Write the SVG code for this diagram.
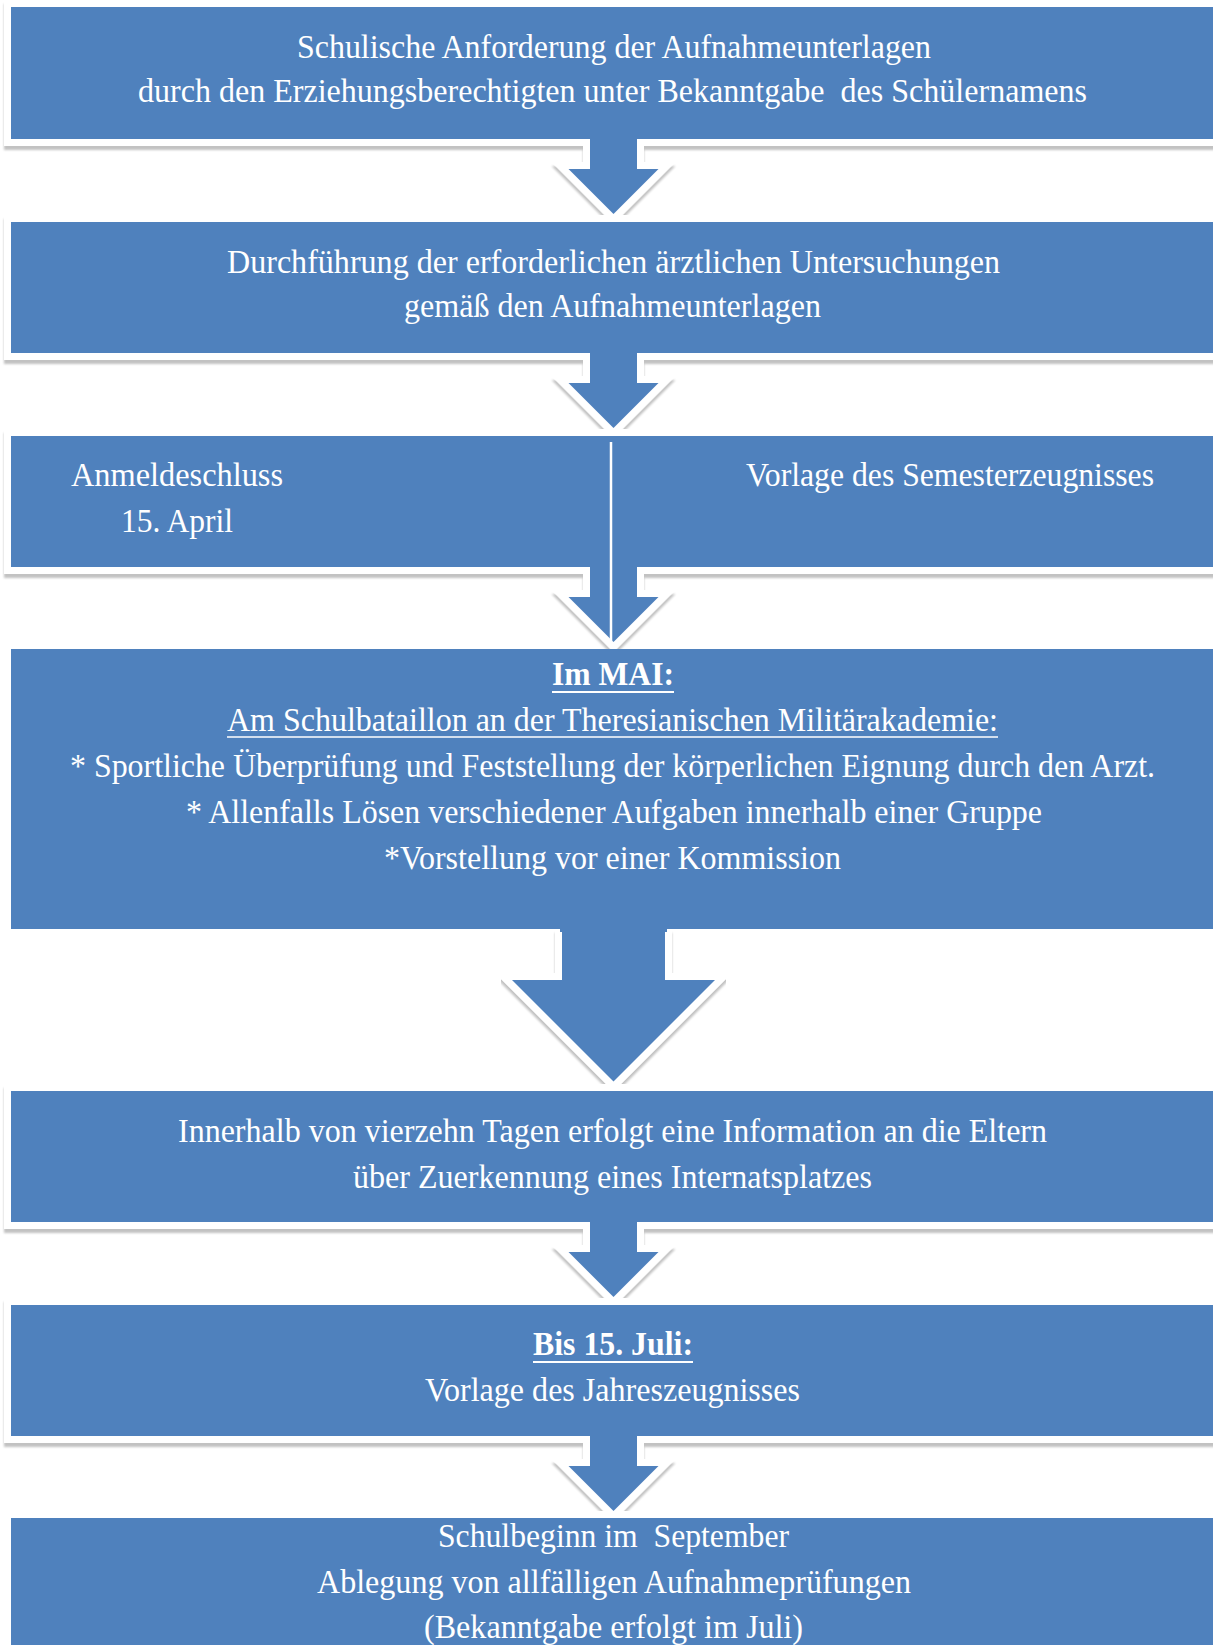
<svg xmlns="http://www.w3.org/2000/svg" width="1213" height="1645" viewBox="0 0 1213 1645">
<defs>
<style>
.box{fill:#4F81BD;stroke:#fff;stroke-width:14;stroke-linejoin:miter;stroke-miterlimit:10;paint-order:stroke}
.sh{filter:url(#ds)}
.t{font-family:"Liberation Serif","Times New Roman",serif;font-size:33px;fill:#fff}
.b{font-weight:bold}
.ul{stroke:#fff;stroke-width:2}
.div{stroke:#fff;stroke-width:2.5}
</style>
<filter id="ds" x="-5%" y="-10%" width="110%" height="130%">
<feDropShadow dx="0" dy="4" stdDeviation="1" flood-color="#000" flood-opacity="0.24"/>
</filter>
</defs>
<rect width="1213" height="1645" fill="#fff"/>

<g id="node1">
<path class="box sh" d="M11,7 H1230 V139 H637 V169 H658.5 L613.5,214 L568.5,169 H590 V139 H11 Z"/>
<text class="t" x="297" y="58" textLength="634" lengthAdjust="spacingAndGlyphs">Schulische Anforderung der Aufnahmeunterlagen</text>
<text class="t" x="138" y="102" textLength="949" lengthAdjust="spacingAndGlyphs" xml:space="preserve">durch den Erziehungsberechtigten unter Bekanntgabe  des Schülernamens</text>
</g>

<g id="node2">
<path class="box sh" d="M11,222 H1230 V353 H637 V383 H658.5 L613.5,428 L568.5,383 H590 V353 H11 Z"/>
<text class="t" x="227" y="273" textLength="773" lengthAdjust="spacingAndGlyphs">Durchführung der erforderlichen ärztlichen Untersuchungen</text>
<text class="t" x="404" y="317" textLength="417" lengthAdjust="spacingAndGlyphs">gemäß den Aufnahmeunterlagen</text>
</g>

<g id="node3">
<path class="box sh" d="M11,436 H1230 V567 H637 V597 H658.5 L613.5,642 L568.5,597 H590 V567 H11 Z"/>
<line class="div" x1="611" y1="442" x2="611" y2="641"/>
<text class="t" x="71" y="486" textLength="212" lengthAdjust="spacingAndGlyphs">Anmeldeschluss</text>
<text class="t" x="121" y="532" textLength="112" lengthAdjust="spacingAndGlyphs">15. April</text>
<text class="t" x="746" y="486" textLength="408" lengthAdjust="spacingAndGlyphs">Vorlage des Semesterzeugnisses</text>
</g>

<g id="node4">
<rect x="11" y="649" width="1220" height="280" fill="#4F81BD"/>
<path class="box sh" d="M562,929 V980 H512 L613.5,1081.5 L715,980 H665 V929"/>
<rect x="560" y="926" width="107" height="6" fill="#4F81BD"/>
<text class="t b" x="552" y="685" textLength="122" lengthAdjust="spacingAndGlyphs">Im MAI:</text>
<line class="ul" x1="552" y1="692" x2="674" y2="692"/>
<text class="t" x="227" y="731" textLength="771" lengthAdjust="spacingAndGlyphs">Am Schulbataillon an der Theresianischen Militärakademie:</text>
<line class="ul" x1="227" y1="737" x2="998" y2="737" style="stroke-width:1.5"/>
<text class="t" x="70" y="777" textLength="1085" lengthAdjust="spacingAndGlyphs">* Sportliche Überprüfung und Feststellung der körperlichen Eignung durch den Arzt.</text>
<text class="t" x="186" y="823" textLength="856" lengthAdjust="spacingAndGlyphs">* Allenfalls Lösen verschiedener Aufgaben innerhalb einer Gruppe</text>
<text class="t" x="384" y="869" textLength="457" lengthAdjust="spacingAndGlyphs">*Vorstellung vor einer Kommission</text>
</g>

<g id="node5">
<path class="box sh" d="M11,1091 H1230 V1222 H637 V1252 H658.5 L613.5,1297 L568.5,1252 H590 V1222 H11 Z"/>
<text class="t" x="178" y="1142" textLength="869" lengthAdjust="spacingAndGlyphs">Innerhalb von vierzehn Tagen erfolgt eine Information an die Eltern</text>
<text class="t" x="353" y="1188" textLength="519" lengthAdjust="spacingAndGlyphs">über Zuerkennung eines Internatsplatzes</text>
</g>

<g id="node6">
<path class="box sh" d="M11,1305 H1230 V1436 H637 V1466 H658.5 L613.5,1511 L568.5,1466 H590 V1436 H11 Z"/>
<text class="t b" x="533" y="1355" textLength="160" lengthAdjust="spacingAndGlyphs">Bis 15. Juli:</text>
<line class="ul" x1="533" y1="1362" x2="693" y2="1362"/>
<text class="t" x="425" y="1401" textLength="375" lengthAdjust="spacingAndGlyphs">Vorlage des Jahreszeugnisses</text>
</g>

<g id="node7">
<path class="box" d="M11,1518 H1230 V1670 H11 Z"/>
<text class="t" x="438" y="1547" textLength="351" lengthAdjust="spacingAndGlyphs" xml:space="preserve">Schulbeginn im  September</text>
<text class="t" x="317" y="1593" textLength="594" lengthAdjust="spacingAndGlyphs">Ablegung von allfälligen Aufnahmeprüfungen</text>
<text class="t" x="424" y="1638" textLength="379" lengthAdjust="spacingAndGlyphs">(Bekanntgabe erfolgt im Juli)</text>
</g>

<g id="connectors"></g>
</svg>
